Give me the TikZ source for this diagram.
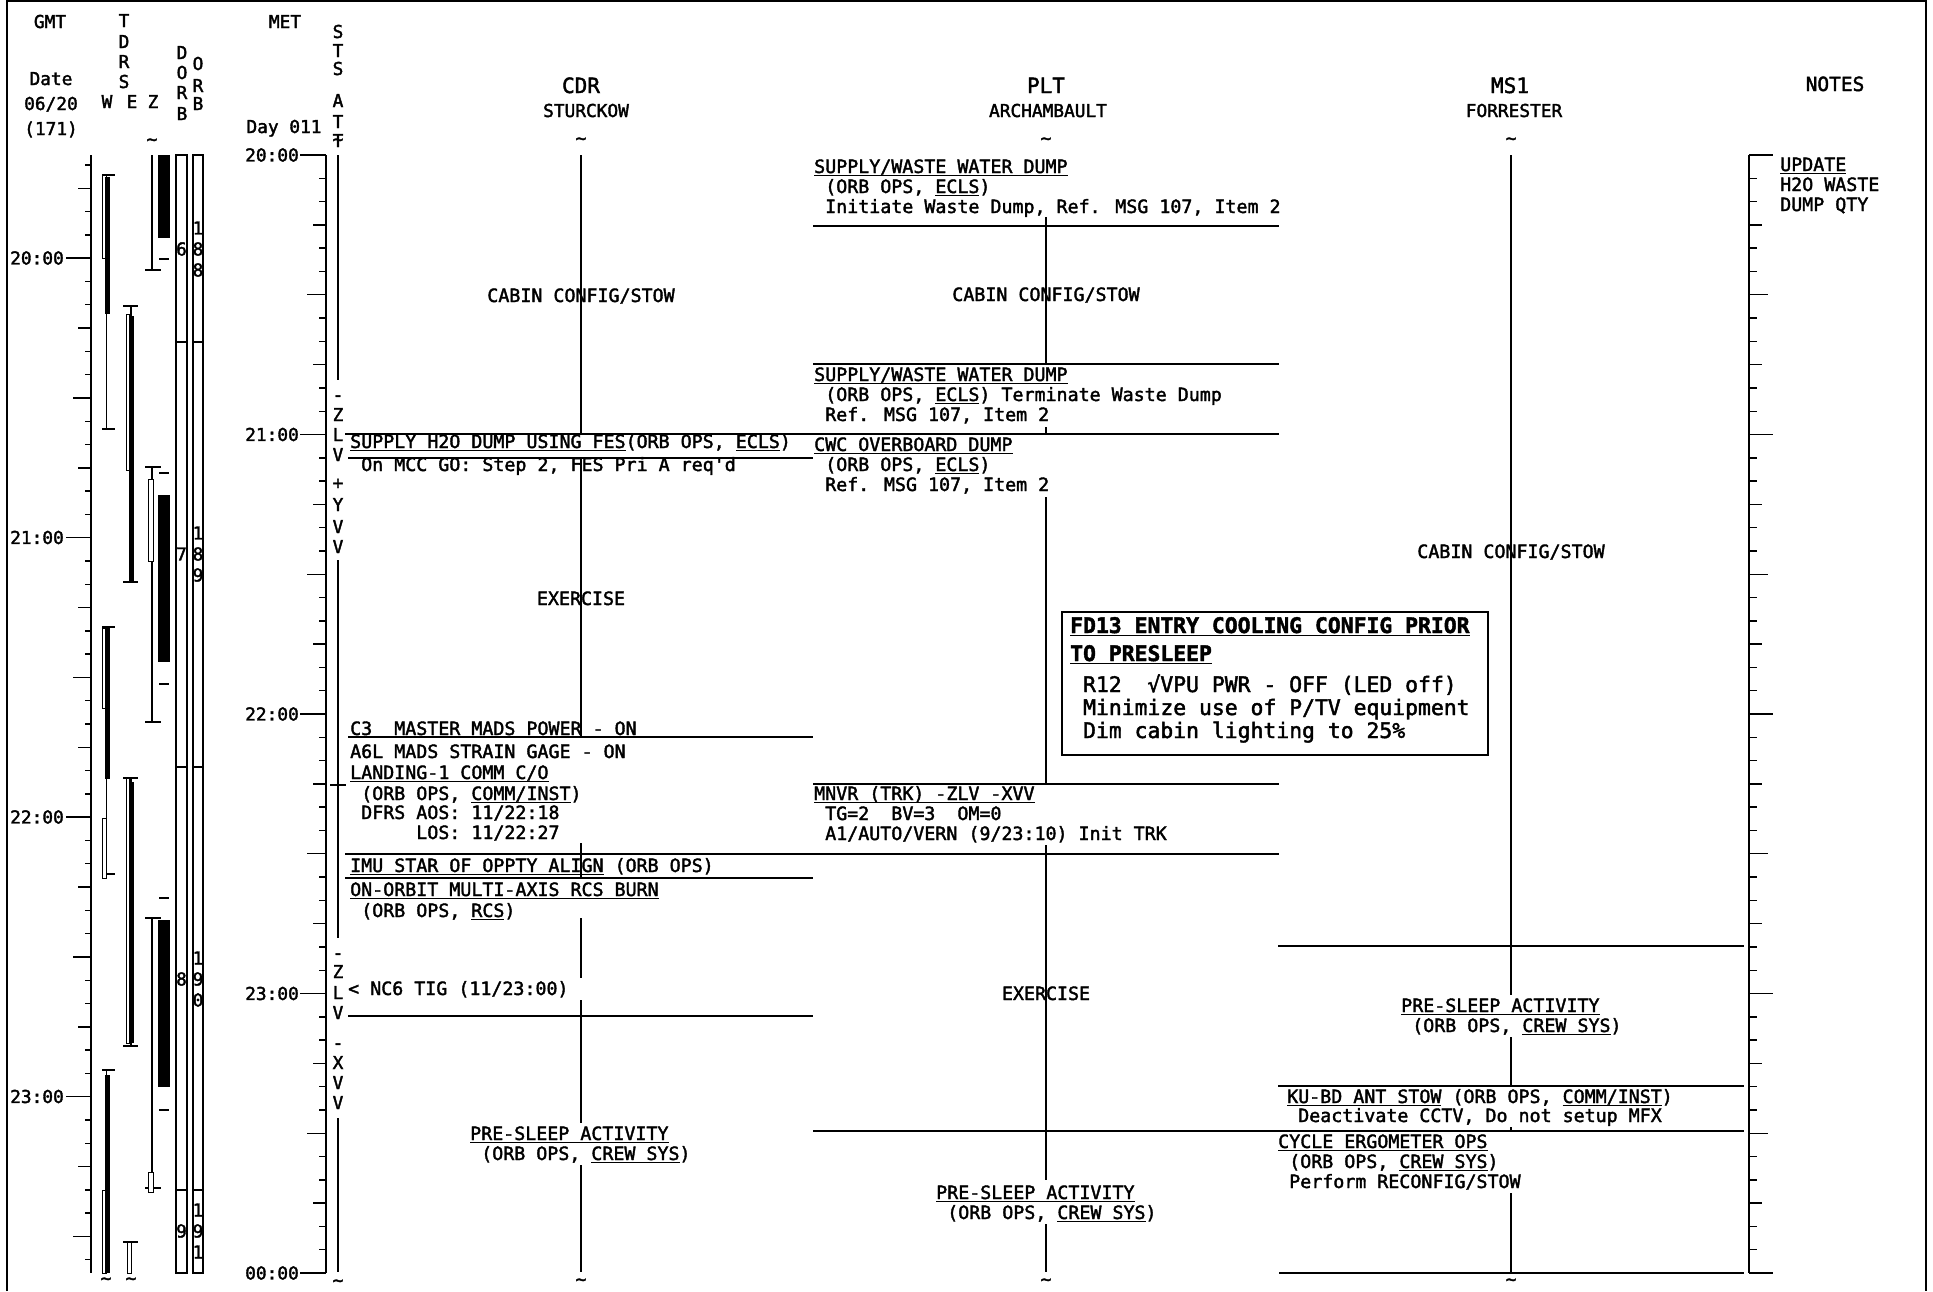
\documentclass[tikz,border=0pt]{standalone}
\usepackage{fontspec}
\newfontfamily\monofam[Ligatures=TeXOff,FakeBold=2]{DejaVu Sans Mono}
\newcommand\rowfont{\monofam\fontsize{18.3}{20}\selectfont}
\newcommand\axfont{\monofam\fontsize{17.8}{20}\selectfont}
\newcommand\hdfont{\monofam\fontsize{21}{24}\selectfont}
\newcommand\ntfont{\monofam\fontsize{19.5}{24}\selectfont}
\newcommand\boxfnt{\monofam\fontsize{21.4}{24}\selectfont}
\newcommand\uln[1]{\setbox0\hbox{#1}\rlap{\rule[-3pt]{\wd0}{1.4pt}}\box0\relax}

\begin{document}
\begin{tikzpicture}[x=1pt,y=-1pt,
  ev/.style={line width=1.7pt},
  ax/.style={line width=1.5pt},
  tk/.style={line width=1.4pt},
  ob/.style={draw,line width=1pt,fill=white},
  row/.style={anchor=base west,inner sep=0pt,font=\rowfont},
  mid/.style={anchor=base,inner sep=0pt,font=\rowfont},
  lab/.style={anchor=base,inner sep=0pt,font=\axfont},
  let/.style={inner sep=0pt,font=\axfont},
  tim/.style={anchor=east,inner sep=0pt,font=\axfont},
  hd/.style={anchor=base,inner sep=0pt,font=\hdfont},
  bx/.style={anchor=base west,inner sep=0pt,font=\boxfnt}]
\useasboundingbox (0,0) rectangle (1933,1291);
\draw[line width=2pt] (7,1291) -- (7,1) -- (1926,1) -- (1926,1291);

% left headers
\node[lab] (gmt) at (50,28) {GMT};
\node[lab] (date) at (51,85) {Date};
\node[lab] (mday) at (51,110) {06/20};
\node[lab] (doy) at (51,135) {(171)};
\foreach \c/\y [count=\i] in {T/27,D/48,R/68,S/88}
  \node[lab] (tdrs\i) at (124,\y) {\c};
\node[lab] (tw) at (107,108) {W};
\node[lab] (te) at (132,108) {E};
\node[lab] (tz) at (153,108) {Z};
\foreach \c/\y [count=\i] in {D/59,O/79,R/99,B/120}
  \node[lab] (dorb\i) at (182,\y) {\c};
\foreach \c/\y [count=\i] in {O/70,R/92,B/110}
  \node[lab] (orb\i) at (198,\y) {\c};
\node[lab] (met) at (285,28) {MET};
\node[lab] (metday) at (284,133) {Day 011};
\foreach \c/\y [count=\i] in {S/38,T/57,S/75,A/107,T/128,T/147}
  \node[lab] (att\i) at (338,\y) {\c};

% crew headers
\node[hd] (cdr) at (581,93) {CDR};
\node[lab] (cdrn) at (586,117) {STURCKOW};
\node[hd] (plt) at (1046,93) {PLT};
\node[lab] (pltn) at (1048,117) {ARCHAMBAULT};
\node[hd] (ms1) at (1510,93) {MS1};
\node[lab] (ms1n) at (1514,117) {FORRESTER};
\node[anchor=base,inner sep=0pt,font=\ntfont] (notes) at (1835,91) {NOTES};

% time axes
\draw[ax] (91,155) -- (91,1273);
\draw[ax] (326,155) -- (326,1273);
\draw[ax] (1749,155) -- (1749,1273);
\foreach \k in {0,...,48}{
  \pgfmathsetmacro\yy{155+279.5/12*\k}
  \pgfmathsetmacro\tkl{ifthenelse(mod(\k,12)==0,26,ifthenelse(mod(\k,6)==0,19,ifthenelse(mod(\k,3)==0,13,7)))}
  \pgfmathsetmacro\tkn{ifthenelse(mod(\k,12)==0,24,ifthenelse(mod(\k,6)==0,19,ifthenelse(mod(\k,3)==0,13,8)))}
  \draw[tk] ({326-\tkl},\yy) -- (326,\yy);
  \draw[tk] (1749,\yy) -- ({1749+\tkn},\yy);
}
\foreach \j in {0,...,47}{
  \pgfmathsetmacro\yy{165+279.5/12*\j}
  \pgfmathtruncatemacro\m{mod(\j+8,12)}
  \pgfmathsetmacro\tkl{ifthenelse(\m==0,25,ifthenelse(mod(\m,6)==0,18,ifthenelse(mod(\m,3)==0,13,6)))}
  \draw[tk] ({91-\tkl},\yy) -- (91,\yy);
}
\foreach \t [count=\i from 0] in {20:00,21:00,22:00,23:00}
  \node[tim] (g\i) at (64,{258+279.5*\i}) {\t};
\foreach \t [count=\i from 0] in {20:00,21:00,22:00,23:00,00:00}
  \node[tim] (m\i) at (299,{155+279.5*\i}) {\t};

% TDRS W
\draw[tk] (106.5,175) -- (106.5,429) (106.5,627) -- (106.5,874) (106.5,1070) -- (106.5,1273);
\foreach \y in {175,429,627,874,1070} \draw[tk] (102,\y) -- (115,\y);
\foreach \a/\b in {175/258,628/708,818/878,1190/1273} \draw[ob] (102,\a) rectangle (106,\b);
\foreach \a/\b in {177/314,628/779,1075/1273} \fill (105,\a) rectangle (110,\b);
% TDRS E
\draw[tk] (131,306) -- (131,582) (131,778) -- (131,1046) (131,1242) -- (131,1273);
\foreach \y in {306,582,778,1046,1242} \draw[tk] (123,\y) -- (138,\y);
\foreach \a/\b in {314/470,778/1043} \draw[ob] (126,\a) rectangle (129.5,\b);
\draw[ob] (127,1242) rectangle (131,1273);
\foreach \a/\b in {316/582,782/1043} \fill (129,\a) rectangle (134,\b);
% TDRS Z
\draw[tk] (152,155) -- (152,270) (152,467) -- (152,722) (152,918) -- (152,1188);
\foreach \y in {270,467,722,918,1188} \draw[tk] (145,\y) -- (161,\y);
\foreach \a/\b in {479/561,1172/1192} \draw[ob] (148,\a) rectangle (153,\b);
\foreach \a/\b in {155/238,495/662,920/1087} \fill (158,\a) rectangle (170,\b);
\foreach \y in {259,473,684,898,1110} \draw[tk] (159,\y) -- (169,\y);

% orbits
\foreach \a/\b/\d/\da/\db/\dc/\yo [count=\i] in {155/342/6/1/8/8/228,342/767/7/1/8/9/533,767/1190/8/1/9/0/958,1190/1273/9/1/9/1/1210}{
  \draw[line width=1.1pt] (176,\a) rectangle (187,\b);
  \draw[line width=1.1pt] (193,\a) rectangle (203,\b);
  \node[let] (dn\i) at (181.5,\yo+21) {\d};
  \node[let] (on\i a) at (198,\yo) {\da};
  \node[let] (on\i b) at (198,\yo+21) {\db};
  \node[let] (on\i c) at (198,\yo+42) {\dc};
}

% STS attitude
\draw[ax] (338,155) -- (338,380) (338,560) -- (338,938) (338,1118) -- (338,1272);
\draw[tk] (330,785) -- (346,785);
\foreach \c/\y [count=\i] in {-/401,Z/421,L/441,V/461,+/489,Y/511,V/533,V/553,-/959,Z/978,L/999,V/1019,-/1049,X/1069,V/1089,V/1109}
  \node[lab] (sa\i) at (338,\y) {\c};

% tildes
\foreach \x/\y [count=\i] in {581/141,1046/141,1511/141,152/142,338/142,581/1282,1046/1282,1511/1282,338/1283,106/1281,131/1281}
  \node[let] (tl\i) at (\x,\y) {\textasciitilde};

% CDR
\draw[ev] (345,434) -- (1279,434);
\draw[ev] (348,458) -- (813,458);
\draw[ev] (348,737) -- (813,737);
\draw[ev] (345,854) -- (1279,854);
\draw[ev] (345,878) -- (813,878);
\draw[ev] (348,1016) -- (813,1016);
\draw[ax] (581,155) -- (581,434) (581,458) -- (581,737) (581,843) -- (581,878)
  (581,918) -- (581,978) (581,1000) -- (581,1123) (581,1165) -- (581,1272);
\node[mid] (ccab) at (581,302) {CABIN CONFIG/STOW};
\node[row] (h2o) at (350,448) {\uln{SUPPLY H2O DUMP USING FES}(ORB OPS, \uln{ECLS})};
\node[row] (mcc) at (350,471) {~On MCC GO: Step 2, FES Pri A req'd};
\node[mid] (cex) at (581,605) {EXERCISE};
\node[row] (mads1) at (350,735) {C3~~MASTER MADS POWER - ON};
\node[row] (mads2) at (350,758) {A6L MADS STRAIN GAGE - ON};
\node[row] (land1) at (350,779) {\uln{LANDING-1 COMM C/O}};
\node[row] (land2) at (350,800) {~(ORB OPS, \uln{COMM/INST})};
\node[row] (dfrs1) at (350,819) {~DFRS AOS: 11/22:18};
\node[row] (dfrs2) at (350,839) {~~~~~~LOS: 11/22:27};
\node[row] (imu) at (350,872) {\uln{IMU STAR OF OPPTY ALIGN} (ORB OPS)};
\node[row] (rcs1) at (350,896) {\uln{ON-ORBIT MULTI-AXIS RCS BURN}};
\node[row] (rcs2) at (350,917) {~(ORB OPS, \uln{RCS})};
\node[row] (nc6) at (348,995) {< NC6 TIG (11/23:00)};
\node[row] (cps1) at (470,1140) {\uln{PRE-SLEEP ACTIVITY}};
\node[row] (cps2) at (470,1160) {~(ORB OPS, \uln{CREW SYS})};

% PLT
\draw[ev] (813,226) -- (1279,226);
\draw[ev] (813,364) -- (1279,364);
\draw[ev] (813,784) -- (1279,784);
\draw[ev] (813,1131) -- (1744,1131);
\draw[ax] (1046,217) -- (1046,364) (1046,427) -- (1046,434) (1046,497) -- (1046,784)
  (1046,845) -- (1046,1180) (1046,1224) -- (1046,1272);
\node[row] (pw1) at (814,173) {\uln{SUPPLY/WASTE WATER DUMP}};
\node[row] (pw2) at (814,193) {~(ORB OPS, \uln{ECLS})};
\node[row] (pw3) at (814,213) {~Initiate Waste Dump, Ref. MSG 107, Item 2};
\node[mid] (pcab) at (1046,301) {CABIN CONFIG/STOW};
\node[row] (pt1) at (814,381) {\uln{SUPPLY/WASTE WATER DUMP}};
\node[row] (pt2) at (814,401) {~(ORB OPS, \uln{ECLS}) Terminate Waste Dump};
\node[row] (pt3) at (814,421) {~Ref. MSG 107, Item 2};
\node[row] (cwc1) at (814,451) {\uln{CWC OVERBOARD DUMP}};
\node[row] (cwc2) at (814,471) {~(ORB OPS, \uln{ECLS})};
\node[row] (cwc3) at (814,491) {~Ref. MSG 107, Item 2};
\node[row] (mn1) at (814,800) {\uln{MNVR (TRK) -ZLV -XVV}};
\node[row] (mn2) at (814,820) {~TG=2~~BV=3~~OM=0};
\node[row] (mn3) at (814,840) {~A1/AUTO/VERN (9/23:10) Init TRK};
\node[mid] (pex) at (1046,1000) {EXERCISE};
\node[row] (pps1) at (936,1199) {\uln{PRE-SLEEP ACTIVITY}};
\node[row] (pps2) at (936,1219) {~(ORB OPS, \uln{CREW SYS})};

% entry cooling box
\draw[line width=1.8pt] (1062,612) rectangle (1488,755);
\node[bx] (fd1) at (1070,633) {\bfseries\uln{FD13 ENTRY COOLING CONFIG PRIOR}};
\node[bx] (fd2) at (1070,661) {\bfseries\uln{TO PRESLEEP}};
\node[bx] (fd3) at (1070,692) {~R12~~√VPU PWR - OFF (LED off)};
\node[bx] (fd4) at (1070,715) {~Minimize use of P/TV equipment};
\node[bx] (fd5) at (1070,738) {~Dim cabin lighting to 25\%};

% MS1
\draw[ev] (1278,946) -- (1744,946);
\draw[ev] (1278,1086) -- (1744,1086);
\draw[ev] (1279,1273) -- (1744,1273);
\draw[ax] (1511,155) -- (1511,995) (1511,1037) -- (1511,1086) (1511,1127) -- (1511,1131)
  (1511,1193) -- (1511,1272);
\node[mid] (mcab) at (1511,558) {CABIN CONFIG/STOW};
\node[row] (mps1) at (1401,1012) {\uln{PRE-SLEEP ACTIVITY}};
\node[row] (mps2) at (1401,1032) {~(ORB OPS, \uln{CREW SYS})};
\node[row] (ku1) at (1287,1103) {\uln{KU-BD ANT STOW} (ORB OPS, \uln{COMM/INST})};
\node[row] (ku2) at (1287,1122) {~Deactivate CCTV, Do not setup MFX};
\node[row] (cy1) at (1278,1148) {\uln{CYCLE ERGOMETER OPS}};
\node[row] (cy2) at (1278,1168) {~(ORB OPS, \uln{CREW SYS})};
\node[row] (cy3) at (1278,1188) {~Perform RECONFIG/STOW};

% notes
\node[row] (nt1) at (1780,171) {\uln{UPDATE}};
\node[row] (nt2) at (1780,191) {H2O WASTE};
\node[row] (nt3) at (1780,211) {DUMP QTY};
\end{tikzpicture}
\end{document}
